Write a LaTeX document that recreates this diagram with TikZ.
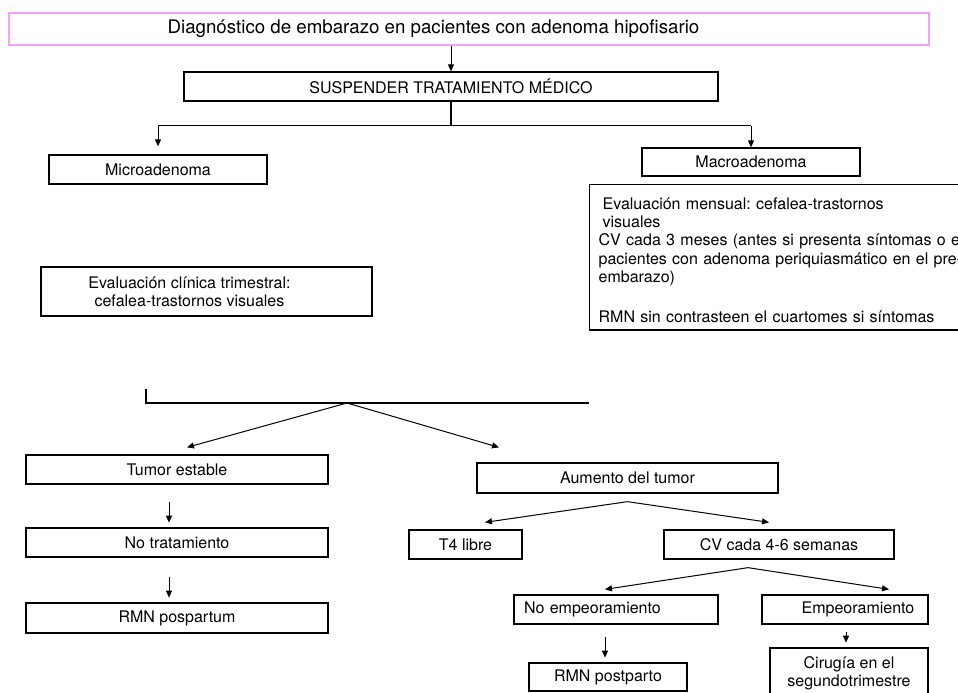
\documentclass[tikz,border=0pt]{standalone}
\usepackage{fontspec}
\setmainfont{TeX Gyre Heros}
\usetikzlibrary{arrows.meta}
\definecolor{titlepink}{RGB}{248,160,248}
\frenchspacing

\begin{document}
\begin{tikzpicture}[x=1pt,y=-1pt,
  every node/.style={font=\fontsize{16}{18.4}\selectfont},
  box/.style={draw,line width=1.3pt,inner sep=0pt,minimum height=29pt},
  titlebox/.style={draw=titlepink,line width=1.5pt,inner sep=0pt,font=\fontsize{18.7}{22}\selectfont},
  conn/.style={line width=1.2pt},
  arr/.style={line width=1pt,-{Triangle[length=7pt,width=6pt]}},
]
  \useasboundingbox (0,0) rectangle (958,693);

  \node[titlebox,minimum width=920pt,minimum height=32pt] (title) at (469,29) {Diagnóstico de embarazo en pacientes con adenoma hipofisario\kern71pt};
  \node[box,minimum width=534pt] (susp) at (451,86.5) {SUSPENDER TRATAMIENTO MÉDICO};
  \node[box,minimum width=218pt] (micro) at (158,169.5) {Microadenoma};
  \node[box,minimum width=218pt,minimum height=28pt] (macro) at (751,162) {Macroadenoma};
  \node[box,anchor=north west,minimum width=420pt,text width=402pt,inner xsep=9pt,inner ysep=7.5pt,align=left] (macroeval) at (589,184) {%
    \rule{0pt}{17pt}\hspace*{4pt}Evaluación mensual: cefalea-trastornos\\
    \hspace*{4pt}visuales\\
    CV cada 3 meses (antes si presenta síntomas o en\\
    pacientes con adenoma periquiasmático en el pre-\\
    embarazo)\\[21pt]
    RMN sin contrasteen el cuartomes si síntomas};
  \node[box,minimum width=331pt,minimum height=49pt,align=center] (clinica) at (206.5,291.5) {Evaluación clínica trimestral:\kern34pt\\ cefalea-trastornos visuales\kern34pt};

  \node[box,minimum width=302pt] (tumor) at (177,469.5) {Tumor estable};
  \node[box,minimum width=302pt] (notrat) at (177,542.5) {No tratamiento};
  \node[box,minimum width=302pt,minimum height=30pt] (rmnpos) at (177,618) {RMN pospartum};

  \node[box,minimum width=301pt,minimum height=30pt] (aumento) at (627.5,478) {Aumento del tumor};
  \node[box,minimum width=113pt] (t4) at (465.5,544.5) {T4 libre};
  \node[box,minimum width=230pt] (cv) at (779,544.5) {CV cada 4-6 semanas};
  \node[box,minimum width=204pt,text width=184pt,inner xsep=10pt,align=left] (noemp) at (616,609.5) {No empeoramiento};
  \node[box,minimum width=166pt] (emp) at (845,609.5) {\kern26pt Empeoramiento};
  \node[box,minimum width=158pt,minimum height=28pt] (rmnpost) at (608,677) {RMN postparto};
  \node[box,minimum width=158pt,minimum height=51pt,align=center] (cirugia) at (849,673.5) {Cirugía en el\\ segundotrimestre};

  \draw[arr] (susp.north |- title.south) -- (susp.north);
  \draw[conn] (susp.south) -- ++(0,24) coordinate (split);
  \draw[conn] (split -| micro.north) -- (split -| macro.north);
  \draw[arr] (split -| micro.north) -- ([yshift=8pt]micro.north);
  \draw[arr] (split -| macro.north) -- (macro.north);

  \coordinate (brkL) at (146,389);
  \coordinate (brkR) at (589,403);
  \coordinate (brk) at (347,403);
  \draw[conn] (brkL) |- (brkR);
  \draw[arr] (brk) -- ([xshift=10pt,yshift=7pt]tumor.north);
  \draw[arr] (brk) -- ([xshift=-128.5pt,yshift=15pt]aumento.north);

  \draw[arr] ([xshift=-8pt,yshift=-17pt]tumor.south) -- ++(0,21);
  \draw[arr] ([xshift=-8pt,yshift=-19pt]notrat.south) -- ++(0,21);

  \draw[arr] ([yshift=-8pt]aumento.south) coordinate (aum) -- ([xshift=19.5pt,yshift=7pt]t4.north);
  \draw[arr] (aum) -- ([xshift=-10pt,yshift=7pt]cv.north);
  \draw[arr] ([xshift=-31pt,yshift=-8pt]cv.south) coordinate (cvs) -- ([xshift=-11pt,yshift=5pt]noemp.north);
  \draw[arr] (cvs) -- ([xshift=44pt,yshift=5pt]emp.north);
  \draw[arr] ([xshift=-11pt,yshift=-12pt]noemp.south) -- ++(0,21);
  \draw[arr] ([xshift=1pt,yshift=-7pt]emp.south) -- ++(0,11);
\end{tikzpicture}
\end{document}
